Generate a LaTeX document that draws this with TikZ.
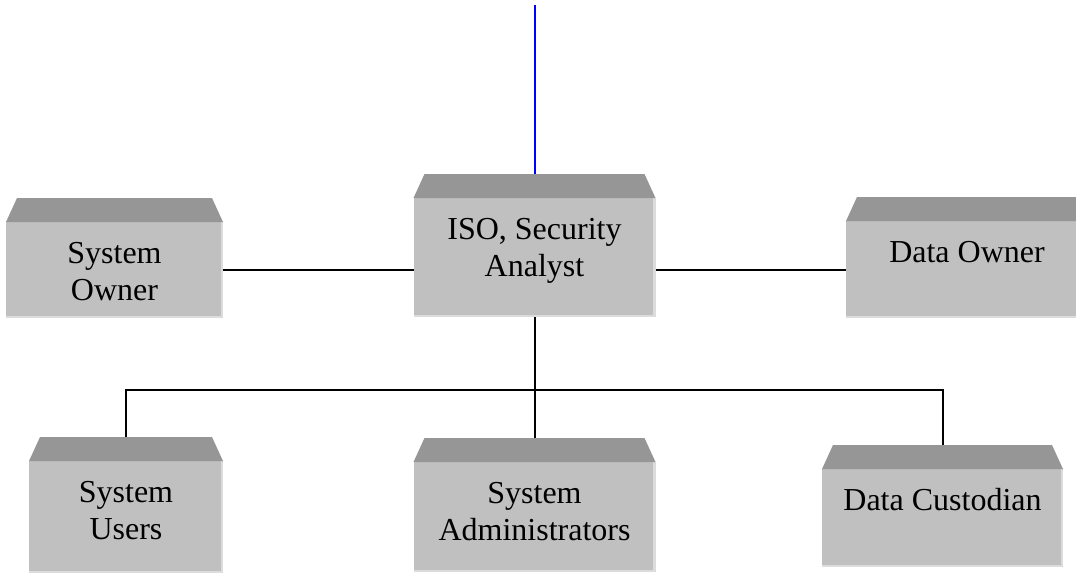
\documentclass[tikz,border=0pt]{standalone}
\usepackage{fontspec}
\setmainfont{Liberation Serif}
\definecolor{facegray}{HTML}{C0C0C0}
\definecolor{topgray}{HTML}{969696}
\definecolor{edgegray}{HTML}{DCDCDC}
\tikzset{
  face/.style={fill=facegray, draw=none, inner sep=0pt, outer sep=0pt},
  rolelabel/.style={font=\fontsize{32}{37}\selectfont, anchor=base, inner sep=0pt},
  link/.style={line width=2pt, draw=black},
  feed/.style={line width=2pt, draw=blue},
}
% #1 name, #2 centre x, #3 centre y, #4 width, #5 height, #6 text
\newcommand\rolebox[6]{%
  \node[face, minimum width=#4, minimum height=#5] (#1) at (#2,#3) {};
  \draw[edgegray, line width=2.5pt]
    ([xshift=-1.25pt]#1.north east) -- ([xshift=-1.25pt, yshift=1.25pt]#1.south east)
    -- ([yshift=1.25pt]#1.south west);
  \fill[topgray] (#1.north west) -- ([xshift=11pt, yshift=24pt]#1.north west)
    -- ([xshift=-11pt, yshift=24pt]#1.north east) -- (#1.north east) -- cycle;
  \coordinate (#1-top) at ([yshift=24pt]#1.north);
  \node[rolelabel] (#1-text) at ([yshift=-41pt]#1.north)
    {\begin{tabular}[t]{@{}c@{}}#6\end{tabular}};
}
\begin{document}
\begin{tikzpicture}[x=1pt, y=-1pt]
\useasboundingbox (0,0) rectangle (1076,582);
\clip (0,0) rectangle (1076,582);

\rolebox{owner}{114.5}{270}{217}{96}{System\\Owner}
\rolebox{iso}{534.5}{257.5}{242}{119}{ISO, Security\\Analyst}
\rolebox{dataowner}{967}{269.5}{242}{97}{Data Owner}
\rolebox{users}{126}{517}{194}{112}{System\\Users}
\rolebox{admins}{534.5}{517}{242}{110}{System\\Administrators}
\rolebox{custodian}{942.5}{518}{241}{98}{Data Custodian}

% incoming line from above
\coordinate (feedin) at (534.5,5);
\draw[feed] (feedin) -- (iso-top);

% peers on either side
\draw[link] (owner.east) -- (owner.east -| iso.west);
\draw[link] (iso.east |- dataowner.west) -- (dataowner.west);

% tree down to the bottom row
\coordinate (bus) at (534.5,390);
\draw[link] (iso.south) -- (admins-top);
\draw[link] (users-top) |- (bus) -| (custodian-top);
\end{tikzpicture}
\end{document}
